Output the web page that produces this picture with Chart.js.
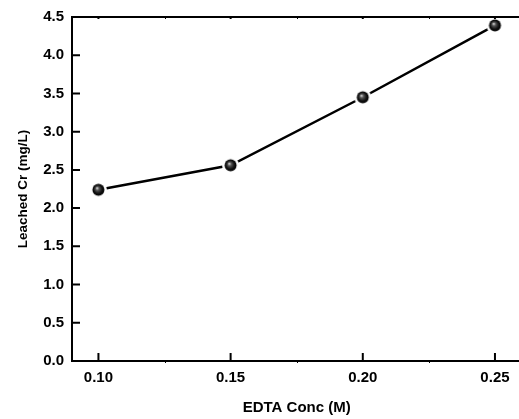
<!DOCTYPE html>
<html>
<head>
<meta charset="utf-8">
<script src="https://cdn.jsdelivr.net/npm/chart.js@4.4.0/dist/chart.umd.min.js"></script>
<style>
  html, body { margin: 0; padding: 0; background: #fff; }
  .wrap { width: 519px; height: 419px; overflow: hidden; }
</style>
</head>
<body>
<div class="wrap"><canvas id="chart" width="540" height="419"></canvas></div>
<script>
// EDTA concentration vs leached Cr
const EDTA_CONC = [0.10, 0.15, 0.20, 0.25];
const LEACHED_CR = [2.24, 2.56, 3.45, 4.39];
const X_TICKS = [0.10, 0.15, 0.20, 0.25];
const X_MINOR = [0.125, 0.175, 0.225];
const Y_TICKS = [0.0, 0.5, 1.0, 1.5, 2.0, 2.5, 3.0, 3.5, 4.0, 4.5];

const FONT = '"Liberation Sans", Arial, Helvetica, sans-serif';

// shaded black ball with a white ring so the line stops short of it
function makeBall(r, gap) {
  const size = Math.ceil((r + gap) * 2) + 2;
  const c = document.createElement("canvas");
  c.width = c.height = size;
  const ctx = c.getContext("2d");
  const m = size / 2;
  ctx.fillStyle = "#fff";
  ctx.beginPath();
  ctx.arc(m, m, r + gap, 0, Math.PI * 2);
  ctx.fill();
  const g = ctx.createRadialGradient(m - r * 0.25, m - r * 0.3, 0, m, m, r);
  g.addColorStop(0, "#f0f0f0");
  g.addColorStop(0.3, "#555");
  g.addColorStop(0.7, "#111");
  g.addColorStop(1, "#000");
  ctx.fillStyle = g;
  ctx.beginPath();
  ctx.arc(m, m, r, 0, Math.PI * 2);
  ctx.fill();
  return c;
}

const ball = makeBall(6, 2.5);

const frame = {
  id: "frame",
  afterDraw(chart) {
    const { ctx, chartArea } = chart;
    const xs = chart.scales.x;
    const ys = chart.scales.y;
    ctx.save();
    ctx.strokeStyle = "#000";
    ctx.lineWidth = 2;
    ctx.beginPath();
    ctx.moveTo(chartArea.left - 1, chartArea.top);
    ctx.lineTo(chartArea.right + 1, chartArea.top);
    ctx.stroke();
    ctx.beginPath();
    for (const v of Y_TICKS) {
      const y = ys.getPixelForValue(v);
      ctx.moveTo(chartArea.left, y);
      ctx.lineTo(chartArea.left + 8, y);
    }
    for (const v of X_TICKS) {
      const x = xs.getPixelForValue(v);
      ctx.moveTo(x, chartArea.bottom);
      ctx.lineTo(x, chartArea.bottom - 8);
      ctx.moveTo(x, chartArea.top);
      ctx.lineTo(x, chartArea.top + 2);
    }
    ctx.stroke();
    ctx.lineWidth = 1;
    ctx.beginPath();
    for (const v of X_MINOR) {
      const x = Math.round(xs.getPixelForValue(v)) + 0.5;
      ctx.moveTo(x, chartArea.bottom);
      ctx.lineTo(x, chartArea.bottom + 2);
      ctx.moveTo(x, chartArea.top);
      ctx.lineTo(x, chartArea.top + 2);
    }
    ctx.stroke();
    ctx.restore();
  },
};

new Chart(document.getElementById("chart"), {
  type: "line",
  data: {
    datasets: [
      {
        data: EDTA_CONC.map((x, i) => ({ x, y: LEACHED_CR[i] })),
        borderColor: "#000",
        borderWidth: 2.5,
        tension: 0,
        pointStyle: ball,
        pointRadius: 8,
        pointHoverRadius: 8,
      },
    ],
  },
  options: {
    responsive: false,
    animation: false,
    events: [],
    layout: { padding: { top: 17, right: 18.6, left: 0, bottom: 0 } },
    plugins: { legend: { display: false }, tooltip: { enabled: false } },
    scales: {
      x: {
        type: "linear",
        min: 0.09,
        max: 0.26,
        afterBuildTicks: (s) => { s.ticks = X_TICKS.map((v) => ({ value: v })); },
        afterFit: (s) => { s.height = 58; },
        grid: { drawOnChartArea: false, drawTicks: false },
        border: { display: true, color: "#000", width: 2 },
        ticks: {
          padding: 8,
          color: "#000",
          font: { family: FONT, size: 15, weight: "bold" },
          callback: (v) => Number(v).toFixed(2),
        },
        title: {
          display: true,
          text: "EDTA Conc (M)",
          color: "#000",
          font: { family: FONT, size: 15, weight: "bold" },
          padding: { top: 0, bottom: 2 },
        },
      },
      y: {
        min: 0,
        max: 4.5,
        afterBuildTicks: (s) => { s.ticks = Y_TICKS.map((v) => ({ value: v })); },
        afterFit: (s) => { s.width = 72; },
        grid: { drawOnChartArea: false, drawTicks: false },
        border: { display: true, color: "#000", width: 2 },
        ticks: {
          padding: 8,
          color: "#000",
          font: { family: FONT, size: 15, weight: "bold" },
          callback: (v) => Number(v).toFixed(1),
        },
        title: {
          display: true,
          text: "Leached Cr (mg/L)",
          color: "#000",
          font: { family: FONT, size: 13.5, weight: "bold" },
          padding: { top: 15, bottom: 0 },
        },
      },
    },
  },
  plugins: [frame],
});
</script>
</body>
</html>
